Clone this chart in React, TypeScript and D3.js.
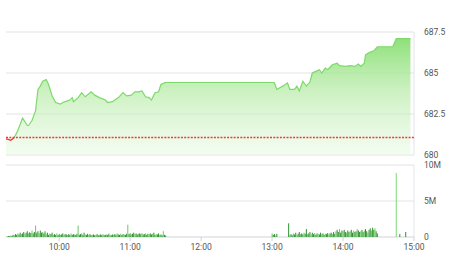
import React from "react";
import * as d3 from "d3";

// ---------- DATA ----------
const priceTimes = [
  "09:15","09:17","09:19","09:21","09:23","09:25","09:29","09:33","09:34","09:37","09:40","09:42","09:44","09:46","09:49","09:51","09:54","09:57",
  "10:01","10:03","10:07","10:09","10:11","10:12","10:16","10:19","10:22","10:27","10:30","10:34","10:39","10:41","10:45","10:50","10:54","10:57",
  "11:01","11:04","11:07","11:10","11:13","11:16","11:18","11:21","11:24","11:26","11:29","11:30",
  "13:01","13:02","13:04","13:09","13:13","13:15","13:19","13:21","13:23","13:26","13:29","13:32","13:34","13:37","13:40","13:42","13:45","13:47","13:51","13:55","13:57",
  "14:02","14:06","14:10","14:13","14:15","14:18","14:19","14:21","14:24","14:26","14:29","14:42","14:45","14:57"
];
const priceValues = [
  680.98,680.95,680.9,681.0,681.2,681.5,682.25,681.8,681.8,682.1,682.7,684.0,684.2,684.5,684.6,684.3,683.6,683.2,
  683.1,683.2,683.3,683.35,683.5,683.25,683.5,683.8,683.55,683.85,683.65,683.5,683.35,683.2,683.25,683.5,683.8,683.6,
  683.65,683.85,683.85,683.9,683.55,683.5,683.35,683.8,683.85,684.3,684.4,684.42,
  684.42,684.4,684.0,684.2,684.4,684.0,684.0,684.2,683.9,684.5,684.2,684.45,685.0,685.1,685.2,685.0,685.3,685.2,685.5,685.6,685.45,
  685.4,685.45,685.4,685.55,685.4,685.6,686.1,686.2,686.3,686.35,686.6,686.6,687.1,687.1
];
const referencePrice = 681.07;

const morningVolStart = "09:16";
const morningVol = [
  0.1,0.15,0.1,0.2,0.15,0.3,0.25,0.4,0.3,0.5,
  0.35,0.6,0.4,0.5,0.7,0.45,0.6,0.8,0.5,0.65,
  0.55,0.9,0.5,0.7,1.6,0.6,0.8,0.5,0.9,0.6,
  0.7,0.5,0.8,0.4,0.6,0.3,0.5,0.4,0.6,0.3,
  0.4,0.3,0.5,0.25,0.4,0.3,0.35,0.5,0.3,0.4,
  0.35,0.25,0.4,0.3,0.5,0.3,0.4,0.35,0.3,0.45,
  1.6,0.3,0.4,0.5,0.3,0.6,0.35,0.3,0.45,0.3,
  0.4,0.25,0.3,0.35,0.25,0.3,0.4,0.25,0.3,0.35,
  0.3,0.4,0.25,0.3,0.35,0.3,0.45,0.3,0.25,0.35,
  0.3,0.4,0.3,0.5,0.35,0.3,0.45,0.3,0.4,0.35,
  0.3,0.45,1.7,0.4,0.5,0.35,0.45,0.6,0.4,0.5,
  0.35,0.45,0.5,0.4,0.55,0.35,0.4,0.5,0.3,0.45,
  0.4,0.5,0.35,0.45,0.6,0.3,0.4,0.35,0.5,0.3,
  0.35,0.25,0.8,0.3,0.2
];
const afternoonVolStart = "13:00";
const afternoonVol = [
  0.5,0.3,0.4,0.2,0.45,0,0,0,0,0,0,0,0,0,
  1.9,
  0.3,0.4,0.25,0.5,0.35,0.6,0.3,0.45,0.7,0.4,
  0.5,0.35,0.6,0.45,1.1,0.4,0.5,0.7,0.35,0.6,
  0.4,0.55,0.3,0.5,0.45,0.35,0.6,0.4,0.5,0.3,
  0.45,0.4,0.55,0.35,0.5,0.6,0.4,0.7,0.45,0.8,
  1.0,0.7,1.1,0.6,0.9,0.8,1.0,0.7,0.6,0.9,
  0.7,0.8,1.0,0.6,0.9,0.7,0.8,1.1,0.9,0.7,
  0.8,1.0,0.7,0.9,1.1,0.8,0.6,1.0,1.2,0.9,
  1.3,1.0,1.2,0.8,0.5
];
const closeVolTimes = ["14:45","14:48","14:53"];
const closeVolValues = [8.9,0.4,0.7];

const priceTicks = [680, 682.5, 685, 687.5];
const volTicks = [0, 5, 10];
const timeTicks = ["10:00","11:00","12:00","13:00","14:00","15:00"];

// ---------- HELPERS ----------
const toDate = (s: string) => {
  const [h, m] = s.split(":").map(Number);
  return new Date(2024, 0, 2, h, m);
};
const addMin = (s: string, k: number) => new Date(toDate(s).getTime() + k * 60000);

export default function App() {
  const W = 450, H = 280;
  const x0 = 6, x1 = 414;
  const x = d3.scaleTime().domain([toDate("09:15"), toDate("15:00")]).range([x0, x1]);
  const yP = d3.scaleLinear().domain([680, 687.5]).range([155, 32]);
  const yV = d3.scaleLinear().domain([0, 10]).range([237, 165]);

  const pts = priceTimes.map((t, i) => ({ t: toDate(t), v: priceValues[i] }));
  const line = d3.line<any>().x(d => x(d.t)).y(d => yP(d.v));
  const area = d3.area<any>().x(d => x(d.t)).y0(yP(680)).y1(d => yP(d.v));
  const refY = yP(referencePrice);

  const bars = [
    ...morningVol.map((v, i) => ({ t: addMin(morningVolStart, i), v })),
    ...afternoonVol.map((v, i) => ({ t: addMin(afternoonVolStart, i), v })),
    ...closeVolTimes.map((t, i) => ({ t: toDate(t), v: closeVolValues[i] })),
  ].filter(b => b.v > 0);

  const font = "Roboto, 'Open Sans', sans-serif";
  const labelColor = "#555";

  return (
    <svg width={W} height={H} style={{ position: "absolute", left: 0, top: 0, background: "#fff" }}>
      <defs>
        <linearGradient id="pg" gradientUnits="userSpaceOnUse" x1="0" y1={yP(687.5)} x2="0" y2={yP(680)}>
          <stop offset="0" stopColor="#7fdc68" stopOpacity={0.95} />
          <stop offset="0.5" stopColor="#b9ecaa" stopOpacity={0.7} />
          <stop offset="1" stopColor="#e8f9e3" stopOpacity={0.5} />
        </linearGradient>
        <clipPath id="above"><rect x={0} y={0} width={W} height={refY} /></clipPath>
        <clipPath id="below"><rect x={0} y={refY} width={W} height={H - refY} /></clipPath>
      </defs>

      {/* price panel grid */}
      {priceTicks.map(p => (
        <line key={p} x1={x0} x2={x1} y1={yP(p)} y2={yP(p)} stroke="#e4e4e4" strokeWidth={1.2} />
      ))}
      <line x1={x1} x2={x1} y1={yP(687.5)} y2={yP(680)} stroke="#dfe4ec" strokeWidth={1} />

      <path d={area(pts) || ""} fill="url(#pg)" />
      <path d={line(pts) || ""} fill="none" stroke="#7dd96a" strokeWidth={1.2} clipPath="url(#above)" />
      <path d={line(pts) || ""} fill="none" stroke="#f03030" strokeWidth={1.3} clipPath="url(#below)" />
      <line x1={x0} x2={x1} y1={refY} y2={refY} stroke="#f23a3a" strokeWidth={1.6} strokeDasharray="2,1.3" />

      {priceTicks.map(p => (
        <text key={p} x={424} y={yP(p)} dy="0.35em" fontSize={8.5} fill={labelColor} fontFamily={font}>
          {String(p)}
        </text>
      ))}

      {/* volume panel */}
      {volTicks.map(v => (
        <line key={v} x1={x0} x2={x1} y1={yV(v)} y2={yV(v)} stroke={v === 0 ? "#cfd4da" : "#e4e4e4"} strokeWidth={1.2} />
      ))}
      <line x1={x1} x2={x1} y1={yV(10)} y2={yV(0)} stroke="#dfe4ec" strokeWidth={1} />
      {bars.map((b, i) => (
        <rect key={i} x={x(b.t) - 0.5} y={yV(b.v)} width={1} height={yV(0) - yV(b.v)}
          fill={b.v > 3 ? "#7fd877" : i % 3 === 0 ? "#6cc764" : "#2f932f"} />
      ))}
      {volTicks.map(v => (
        <text key={v} x={424} y={yV(v)} dy="0.35em" fontSize={8.5} fill={labelColor} fontFamily={font}>
          {v === 0 ? "0" : `${v}M`}
        </text>
      ))}

      {/* time axis */}
      {timeTicks.map(t => (
        <g key={t}>
          <line x1={x(toDate(t))} x2={x(toDate(t))} y1={yV(0)} y2={yV(0) + 4} stroke="#cfd4da" strokeWidth={1} />
          <text x={x(toDate(t))} y={250} textAnchor="middle" fontSize={8.5} fill={labelColor} fontFamily={font}>{t}</text>
        </g>
      ))}
    </svg>
  );
}
